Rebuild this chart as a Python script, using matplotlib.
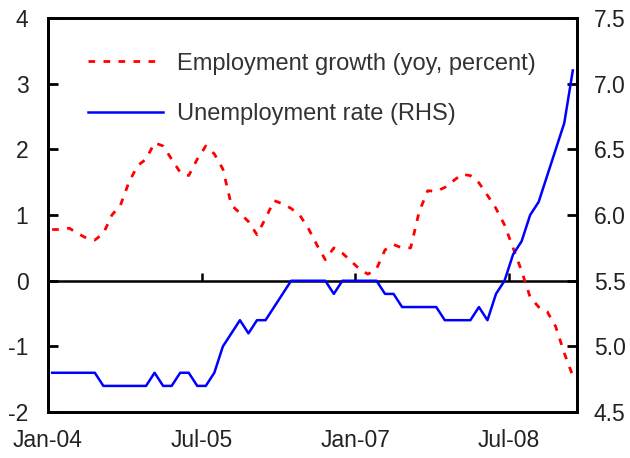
import numpy as np
import matplotlib
matplotlib.use("Agg")
import matplotlib.pyplot as plt

plt.rcParams['font.family'] = ['Liberation Sans', 'DejaVu Sans']
plt.rcParams['axes.unicode_minus'] = False

# monthly data, Jan-04 .. Feb-09
emp_growth = [0.78, 0.78, 0.80, 0.72, 0.65, 0.62, 0.72, 1.00, 1.15, 1.50,
              1.75, 1.85, 2.10, 2.05, 1.85, 1.65, 1.60, 1.85, 2.05, 1.93,
              1.70, 1.15, 1.03, 0.90, 0.70, 0.95, 1.22, 1.17, 1.10, 1.00,
              0.80, 0.55, 0.32, 0.50, 0.42, 0.30, 0.18, 0.10, 0.18, 0.47,
              0.55, 0.50, 0.50, 1.05, 1.37, 1.36, 1.42, 1.52, 1.62, 1.60,
              1.49, 1.30, 1.10, 0.85, 0.50, 0.15, -0.25, -0.40, -0.47, -0.70,
              -1.10, -1.45]
unemp_rate = [4.8, 4.8, 4.8, 4.8, 4.8, 4.8, 4.7, 4.7, 4.7, 4.7,
              4.7, 4.7, 4.8, 4.7, 4.7, 4.8, 4.8, 4.7, 4.7, 4.8,
              5.0, 5.1, 5.2, 5.1, 5.2, 5.2, 5.3, 5.4, 5.5, 5.5,
              5.5, 5.5, 5.5, 5.4, 5.5, 5.5, 5.5, 5.5, 5.5, 5.4,
              5.4, 5.3, 5.3, 5.3, 5.3, 5.3, 5.2, 5.2, 5.2, 5.2,
              5.3, 5.2, 5.4, 5.5, 5.7, 5.8, 6.0, 6.1, 6.3, 6.5,
              6.7, 7.1]
tick_months = [0, 18, 36, 54]
tick_labels = ['Jan-04', 'Jul-05', 'Jan-07', 'Jul-08']

txt = '#222222'
x = np.arange(len(emp_growth))

fig = plt.figure(figsize=(6.3, 4.58), dpi=100)
ax = fig.add_axes([0.076, 0.100, 0.840, 0.861])
ax2 = ax.twinx()

l1, = ax.plot(x, emp_growth, color='#ff0000', lw=2.0, dashes=(2.4, 3.0),
              label='Employment growth (yoy, percent)')
l2, = ax2.plot(x, unemp_rate, color='#0000ff', lw=1.8,
               label='Unemployment rate (RHS)')

ax.set_xlim(-0.5, len(x) - 0.5)
ax.set_ylim(-2, 4)
ax2.set_ylim(4.5, 7.5)
ax.set_yticks(range(-2, 5))
ax2.set_yticks(np.arange(4.5, 7.6, 0.5))
ax2.set_yticklabels(['%.1f' % v for v in np.arange(4.5, 7.6, 0.5)])

# x axis crosses at zero, ticks sit on that line
ax.axhline(0, color='black', lw=1.8, zorder=1)
xt = [m - 0.5 for m in tick_months]
ax.vlines(xt[1:], 0, 0.12, color='black', lw=1.8)
ax.set_xticks(xt)
ax.set_xticklabels(tick_labels)

ax.tick_params(axis='x', length=0, pad=12, labelsize=16.5, labelcolor=txt)
ax.tick_params(axis='y', direction='in', length=7, width=2, pad=14,
               labelsize=16.5, labelcolor=txt)
ax2.tick_params(axis='y', direction='in', length=7, width=2, pad=12,
                labelsize=16.5, labelcolor=txt)
for a in (ax, ax2):
    for s in a.spines.values():
        s.set_linewidth(2)

ax.legend(handles=[l1, l2], loc='upper left', bbox_to_anchor=(0.075, 0.912),
          frameon=False, fontsize=17, labelcolor='#333333', handlelength=3.2,
          handletextpad=0.6, labelspacing=1.2, borderpad=0, borderaxespad=0)

fig.savefig('out.png', dpi=100)
